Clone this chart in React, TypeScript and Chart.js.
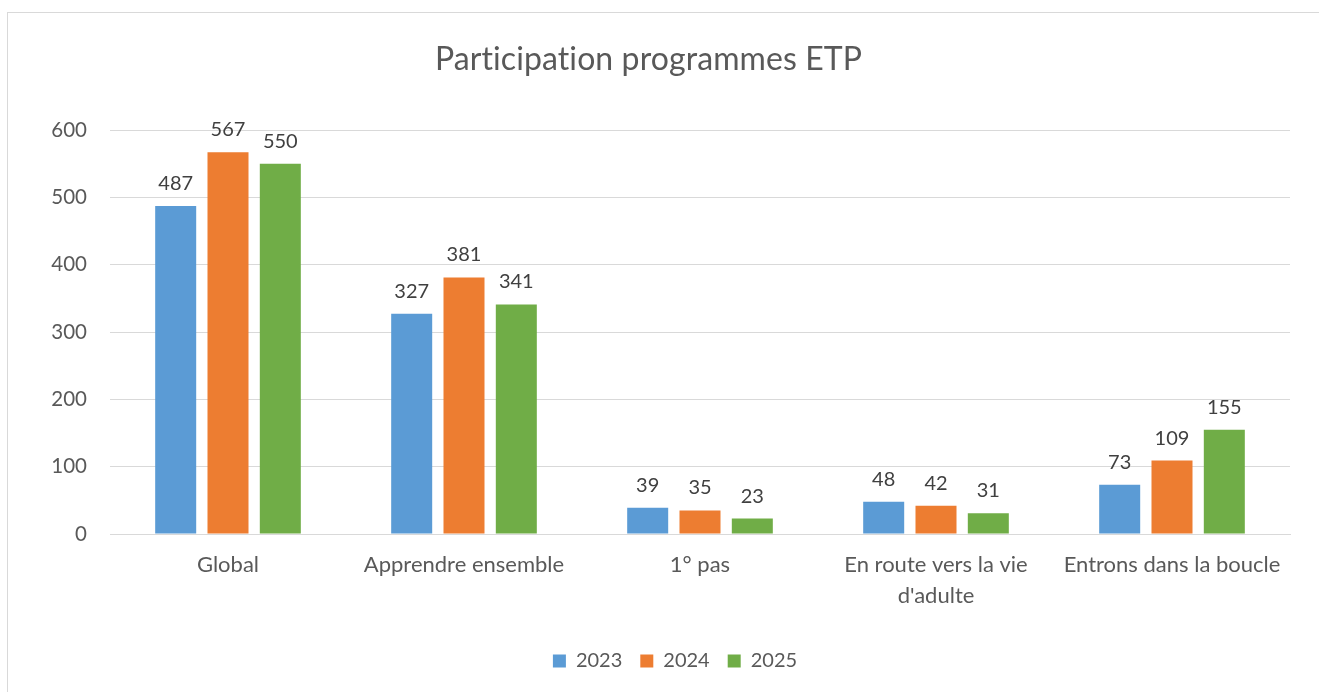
import React, { useEffect, useRef } from "react";
import { Chart, registerables } from "chart.js";

Chart.register(...registerables);

const categories: (string | string[])[] = [
  "Global",
  "Apprendre ensemble",
  "1° pas",
  ["En route vers la vie", "d'adulte"],
  "Entrons dans la boucle",
];
const seriesNames = ["2023", "2024", "2025"];
const values2023 = [487, 327, 39, 48, 73];
const values2024 = [567, 381, 35, 42, 109];
const values2025 = [550, 341, 23, 31, 155];
const seriesColors = ["#5B9BD5", "#ED7D31", "#70AD47"];
const titleText = "Participation programmes ETP";
const yTicks = { min: 0, max: 600, step: 100 };

const FONT = "Lato, 'Open Sans', sans-serif";

const titlePlugin = {
  id: "customTitle",
  afterDraw(chart: any) {
    const ctx = chart.ctx;
    ctx.save();
    ctx.font = `32px ${FONT}`;
    try {
      (ctx as any).letterSpacing = "0.1px";
    } catch (e) {}
    ctx.fillStyle = "#595959";
    ctx.textAlign = "center";
    ctx.textBaseline = "alphabetic";
    ctx.fillText(titleText, chart.width / 2 - 15, 57);
    ctx.restore();
  },
};

const legendShiftPlugin = {
  id: "legendShift",
  afterLayout(chart: any) {
    const lg = chart.legend;
    if (lg) {
      lg.left += 26;
      lg.right += 26;
    }
  },
};

const dataLabelPlugin = {
  id: "dataLabels",
  afterDatasetsDraw(chart: any) {
    const ctx = chart.ctx;
    ctx.save();
    ctx.font = `20px ${FONT}`;
    ctx.fillStyle = "#404040";
    ctx.textAlign = "center";
    ctx.textBaseline = "alphabetic";
    chart.data.datasets.forEach((ds: any, i: number) => {
      const meta = chart.getDatasetMeta(i);
      meta.data.forEach((el: any, j: number) => {
        ctx.fillText(String(ds.data[j]), el.x, el.y - 16);
      });
    });
    ctx.restore();
  },
};

export default function App() {
  const ref = useRef<HTMLCanvasElement>(null);
  useEffect(() => {
    if (!ref.current) return;
    const allSeries = [values2023, values2024, values2025];
    const chart = new Chart(ref.current, {
      type: "bar",
      data: {
        labels: categories,
        datasets: allSeries.map((vals, i) => ({
          label: seriesNames[i],
          data: vals,
          backgroundColor: seriesColors[i],
          borderWidth: 0,
          categoryPercentage: 0.665,
          barPercentage: 0.784,
        })),
      },
      options: {
        animation: false,
        responsive: false,
        layout: { padding: { top: 117, left: 0, right: 29, bottom: 11 } },
        plugins: {
          title: { display: false },
          tooltip: { enabled: false },
          legend: {
            position: "bottom",
            labels: {
              boxWidth: 13,
              boxHeight: 13,
              padding: 18,
              color: "#595959",
              font: { family: FONT, size: 20 },
            },
          },
        },
        scales: {
          x: {
            grid: { display: false, drawTicks: false },
            border: { display: true, color: "#d9d9d9" },
            ticks: {
              color: "#595959",
              font: { family: FONT, size: 22, lineHeight: 1.4 },
              padding: 16,
              maxRotation: 0,
              autoSkip: false,
            },
            afterFit(scale: any) {
              scale.height = 99;
            },
          },
          y: {
            min: yTicks.min,
            max: yTicks.max,
            grid: { color: "#d9d9d9", drawTicks: false, lineWidth: 1 },
            border: { display: false },
            ticks: {
              stepSize: yTicks.step,
              color: "#595959",
              font: { family: FONT, size: 20.5 },
              padding: 23,
            },
            afterFit(scale: any) {
              scale.width = 102;
            },
          },
        },
      },
      plugins: [titlePlugin, dataLabelPlugin, legendShiftPlugin],
    });
    return () => chart.destroy();
  }, []);

  return (
    <div
      style={{
        position: "fixed",
        left: 7,
        top: 12,
        width: 1312,
        height: 680,
        borderTop: "1px solid #d9d9d9",
        borderLeft: "1px solid #d9d9d9",
        overflow: "hidden",
        background: "#fff",
      }}
    >
      <canvas ref={ref} width={1311} height={679} style={{ display: "block" }} />
    </div>
  );
}
